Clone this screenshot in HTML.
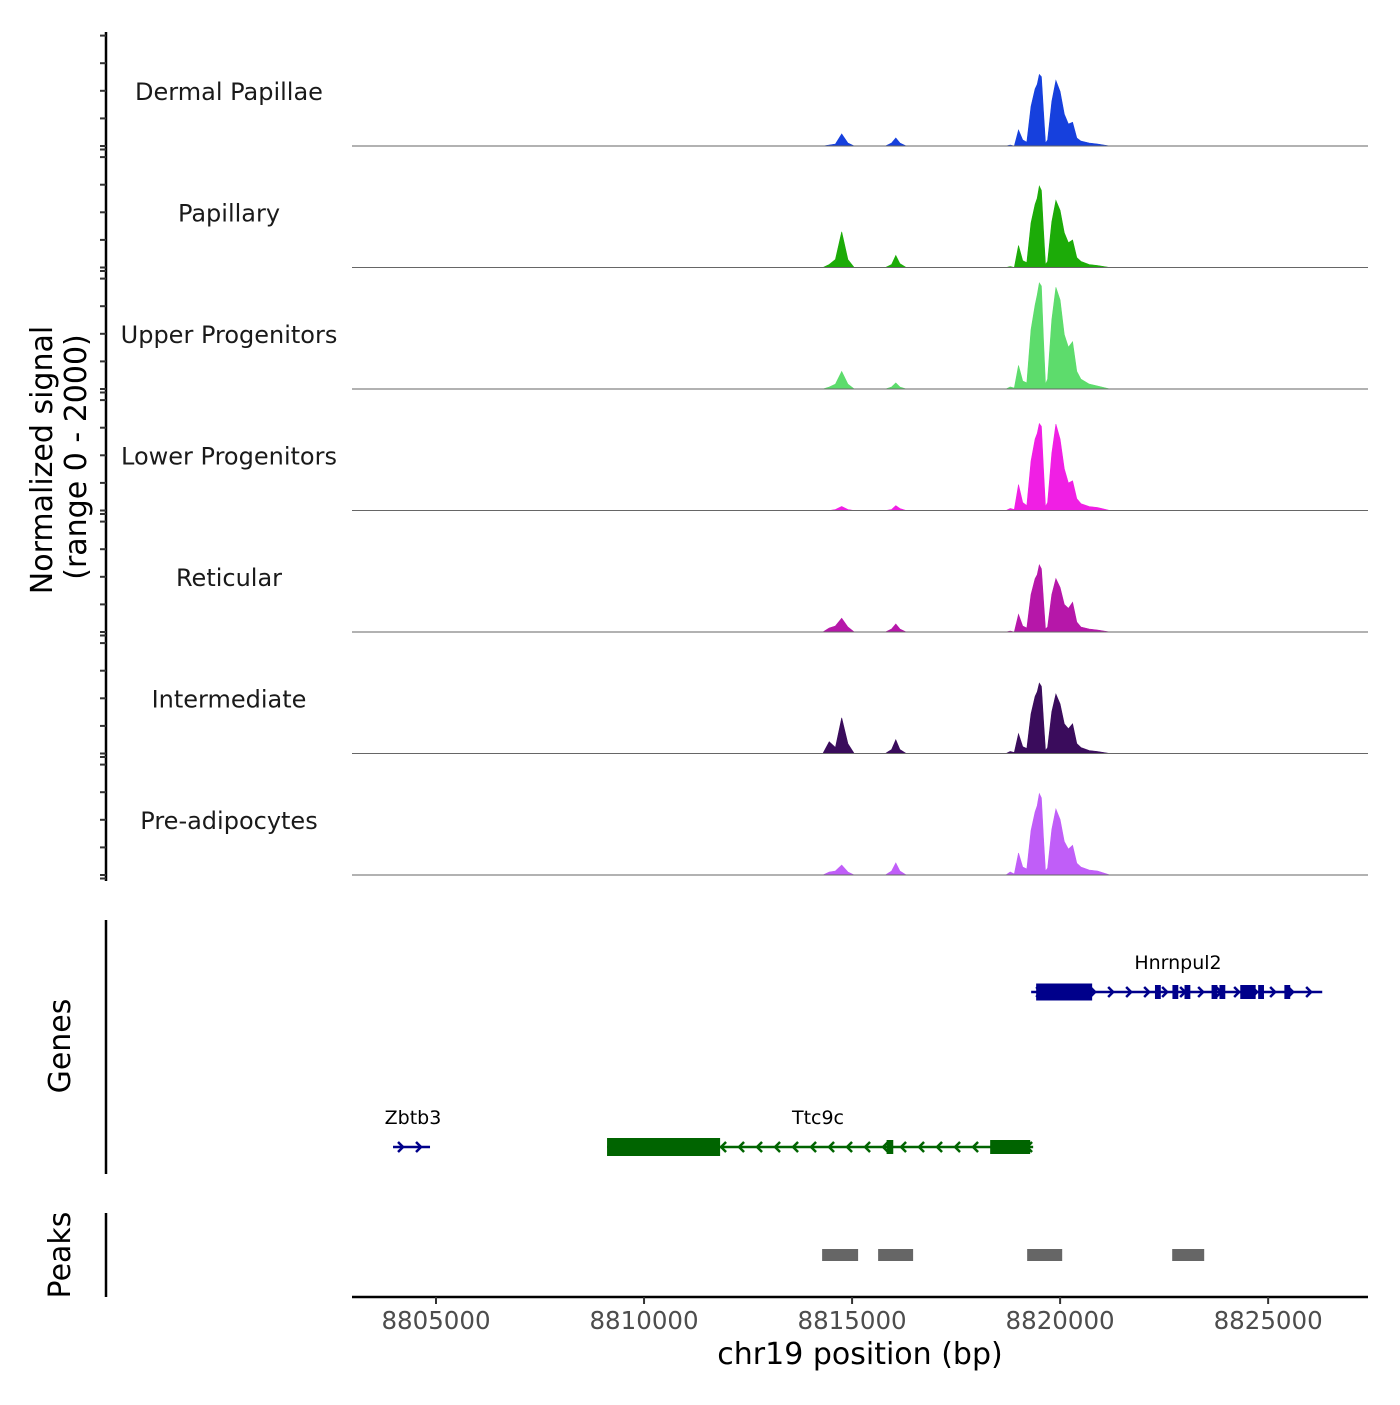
<!DOCTYPE html>
<html><head><meta charset="utf-8"><style>
body{margin:0;background:#fff}
svg text{font-family:"DejaVu Sans","Liberation Sans",sans-serif}
</style></head><body>
<svg id="chart" width="1400" height="1400" xmlns="http://www.w3.org/2000/svg"></svg>
<script>
const trackNames = ["Dermal Papillae","Papillary","Upper Progenitors","Lower Progenitors","Reticular","Intermediate","Pre-adipocytes"];
const trackColors = ["#1640dd","#1cab08","#5ddc6c","#f01fe4","#b617a9","#3a0c5c","#c05ef8"];
const positions = [8802981,
 8814300,8814450,8814600,8814750,8814900,8815050,8815800,8815950,8816050,8816150,8816300,
 8818700,8818800,8818900,8819000,8819100,8819200,8819300,8819400,8819450,8819500,8819550,8819600,8819650,8819700,8819800,8819900,8820000,8820100,8820200,8820300,8820400,8820500,8820700,8820900,8821200,
 8827400];
const sigDermal = [0, 0,18,36,220,55,0,0,55,145,55,0, 0,18,0,290,110,70,720,1040,1120,1300,1260,630,55,110,810,1190,990,580,400,430,145,90,55,36,0, 0];
const sigPapillary = [0, 0,55,145,650,145,0,0,55,220,70,0, 0,18,0,400,125,90,810,1150,1260,1480,1400,680,55,110,830,1220,1040,630,450,500,180,110,55,36,0, 0];
const sigUpper = [0, 0,36,90,320,90,0,0,36,110,36,0, 0,36,18,430,145,110,1080,1530,1710,1930,1870,900,90,180,1260,1850,1620,990,760,860,320,180,90,55,0, 0];
const sigLower = [0, 0,0,18,72,18,0,0,18,90,36,0, 0,36,18,470,145,90,900,1300,1400,1580,1530,760,72,145,1040,1570,1300,760,500,540,215,125,72,55,0, 0];
const sigReticular = [0, 0,72,110,250,90,0,0,55,145,55,0, 0,18,0,320,110,72,680,970,1040,1220,1150,580,55,90,680,970,810,500,430,540,180,90,55,36,0, 0];
const sigIntermediate = [0, 0,215,110,650,180,0,0,72,250,72,0, 0,36,18,360,125,90,720,1040,1120,1280,1220,610,55,110,760,1080,900,540,450,540,180,110,55,36,0, 0];
const sigPreadipo = [0, 0,55,72,180,55,0,0,72,220,72,0, 0,55,18,400,145,110,810,1150,1260,1480,1400,680,72,125,830,1200,1010,610,470,540,215,145,90,72,0, 0];
const xTicks = [8805000,8810000,8815000,8820000,8825000];
const peakStarts = [8814280,8815626,8819208,8822694];
const peakEnds = [8815145,8816467,8820050,8823463];
const hnrExonStarts = [8819424,8822280,8822700,8822990,8823640,8823830,8824330,8824760,8825390];
const hnrExonEnds = [8820770,8822420,8822840,8823130,8823780,8823970,8824700,8824900,8825530];
const ttcExonStarts = [8809111,8815830,8818319];
const ttcExonEnds = [8811828,8815990,8819280];

const NS="http://www.w3.org/2000/svg";
const svg=document.getElementById('chart');
const x0=352,x1=1368,bp0=8802981,bp1=8827400;
function xs(bp){return x0+(bp-bp0)/(bp1-bp0)*(x1-x0);}
const trackH=121.5, firstBase=146, yMax=2000, yPix=110;
function ys(v,base){return base-v/yMax*yPix;}
function mk(tag,attrs,parent){const e=document.createElementNS(NS,tag);for(const k in attrs)e.setAttribute(k,attrs[k]);(parent||svg).appendChild(e);return e;}

const series=[sigDermal,sigPapillary,sigUpper,sigLower,sigReticular,sigIntermediate,sigPreadipo];
const ax=mk('line',{x1:106,y1:32,x2:106,y2:881,stroke:'#000','stroke-width':2.5});


series.forEach((s,i)=>{
  const base=firstBase+i*trackH;
  for(let k=0;k<=4;k++){
    const y=base-k*27.6;
    const t=mk('line',{x1:100,y1:y,x2:106,y2:y,stroke:'#333','stroke-width':2});
    
    
  }
  const t2=mk('line',{x1:100,y1:base+3.5,x2:106,y2:base+3.5,stroke:'#333','stroke-width':2});
  
  
  let d='M'+xs(positions[0])+','+base;
  positions.forEach((p,j)=>{d+=' L'+xs(p).toFixed(1)+','+ys(s[j],base).toFixed(1);});
  d+=' L'+xs(positions[positions.length-1])+','+base+' Z';
  const a=mk('path',{d:d,fill:trackColors[i],stroke:trackColors[i],'stroke-width':0.6});
  
  
  const bl=mk('line',{x1:x0,y1:base,x2:x1,y2:base,stroke:'#666','stroke-width':1});
  
  
  const lb=mk('text',{x:229,y:base-46,'text-anchor':'middle','font-size':24,fill:'#1a1a1a'});
  lb.textContent=trackNames[i];
  
  
});
const yt=mk('text',{transform:'translate(52,460) rotate(-90)','text-anchor':'middle','font-size':30,fill:'#000'});
yt.textContent='Normalized signal';


const yt2=mk('text',{transform:'translate(86,457) rotate(-90)','text-anchor':'middle','font-size':30,fill:'#000'});
yt2.textContent='(range 0 - 2000)';



const ga=mk('line',{x1:106,y1:920,x2:106,y2:1174,stroke:'#000','stroke-width':2.5});


const gt=mk('text',{transform:'translate(70,1046) rotate(-90)','text-anchor':'middle','font-size':30,fill:'#000'});
gt.textContent='Genes';


function chevrons(xa,xb,y,dir,color){
  for(let x=xa;x<=xb;x+=18){
    const d=dir>0?`M${x-3},${y-5} L${x+2},${y} L${x-3},${y+5}`:`M${x+3},${y-5} L${x-2},${y} L${x+3},${y+5}`;
    const c=mk('path',{d:d,fill:'none',stroke:color,'stroke-width':2.5});
    
    
  }
}
function gene(name,s,e,y,color,dir,exS,exE,thick,labelX){
  const g=mk('g',{});
  
  
  mk('line',{x1:xs(s),y1:y,x2:xs(e),y2:y,stroke:color,'stroke-width':2.5},g);
  exS.forEach((a,i)=>{
    const h=i===0?thick:14;
    mk('rect',{x:xs(a),y:y-h/2,width:Math.max(3,xs(exE[i])-xs(a)),height:h,fill:color},g);
  });
  chevrons(xs(s)+8,xs(e)-2,y,dir,color);
  const t=mk('text',{x:labelX,y:y-23,'text-anchor':'middle','font-size':19,fill:'#000'});
  t.textContent=name;
  
  
}
gene('Hnrnpul2',8819304,8826300,992,'#00008b',1,hnrExonStarts,hnrExonEnds,17,1178);
gene('Zbtb3',8803967,8804856,1147,'#00008b',1,[],[],0,413);
gene('Ttc9c',8809111,8819352,1147,'#006400',-1,ttcExonStarts,ttcExonEnds,18,818);

const pa=mk('line',{x1:106,y1:1213,x2:106,y2:1297,stroke:'#000','stroke-width':2.5});


const pt=mk('text',{transform:'translate(70,1255) rotate(-90)','text-anchor':'middle','font-size':30,fill:'#000'});
pt.textContent='Peaks';


peakStarts.forEach((s,i)=>{
  const r=mk('rect',{x:xs(s),y:1249,width:xs(peakEnds[i])-xs(s),height:12,fill:'#666'});
  
  
});
const xa=mk('line',{x1:x0,y1:1297,x2:x1,y2:1297,stroke:'#000','stroke-width':2.5});


xTicks.forEach(v=>{
  const t=mk('line',{x1:xs(v),y1:1297,x2:xs(v),y2:1304,stroke:'#333','stroke-width':2});
  
  
  const l=mk('text',{x:xs(v),y:1329,'text-anchor':'middle','font-size':24.5,fill:'#4d4d4d'});
  l.textContent=v;
  
  
});
const xt=mk('text',{x:860,y:1364,'text-anchor':'middle','font-size':30,fill:'#000'});
xt.textContent='chr19 position (bp)';


</script>
</body></html>
